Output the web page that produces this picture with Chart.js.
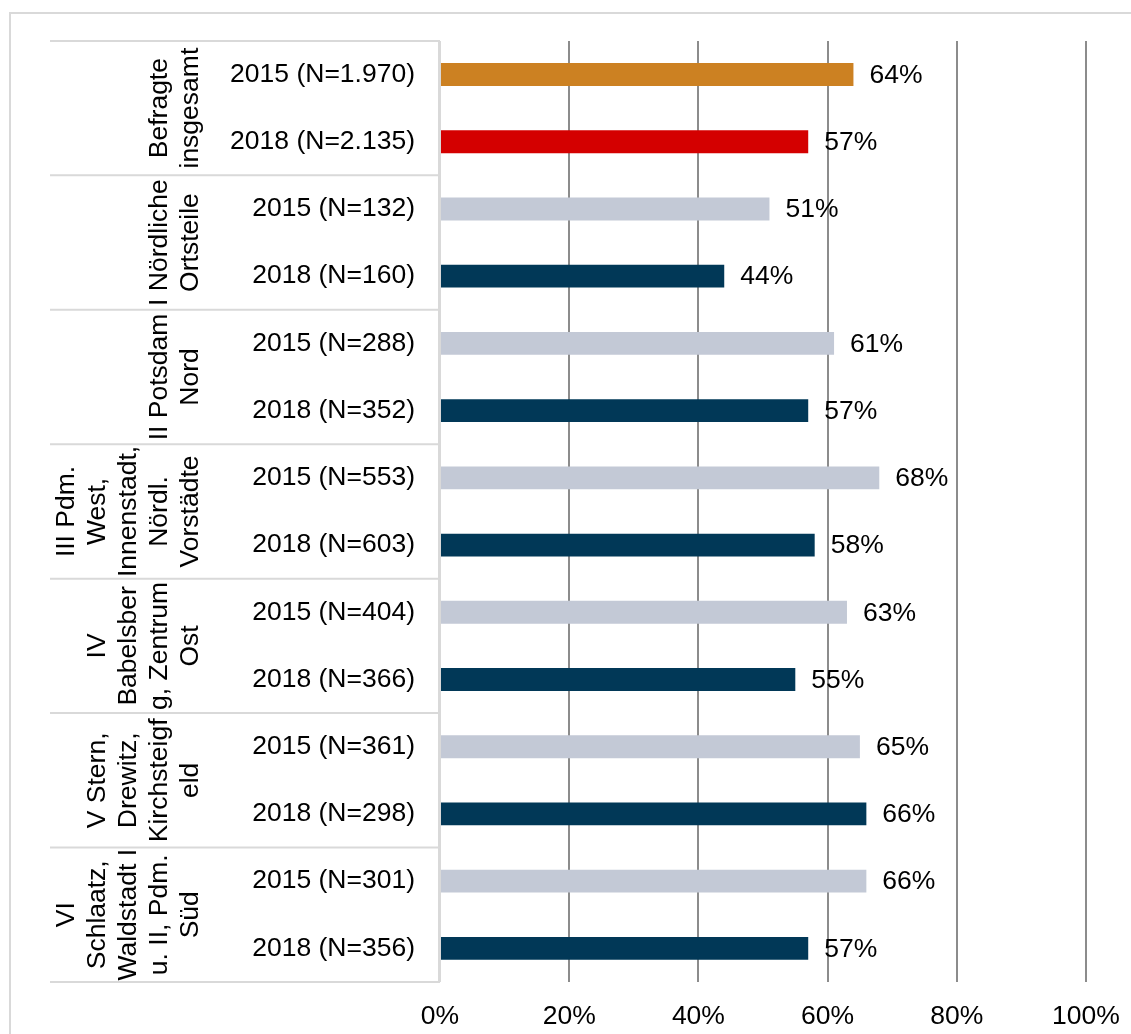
<!DOCTYPE html>
<html>
<head>
<meta charset="utf-8">
<script src="https://cdn.jsdelivr.net/npm/chart.js@4/dist/chart.umd.min.js"></script>
<style>
  body { margin: 0; background: #fff; }
  canvas { display: block; }
</style>
</head>
<body>
<canvas id="myChart" width="1131" height="1034"></canvas>
<script>
// Stadtbezirke (Gruppen, je zwei Balken)
const groupLabels = [
    ["Befragte", "insgesamt"],
    ["I Nördliche", "Ortsteile"],
    ["II Potsdam", "Nord"],
    ["III Pdm.", "West,", "Innenstadt,", "Nördl.", "Vorstädte"],
    ["IV", "Babelsber", "g, Zentrum", "Ost"],
    ["V Stern,", "Drewitz,", "Kirchsteigf", "eld"],
    ["VI", "Schlaatz,", "Waldstadt I", "u. II, Pdm.", "Süd"]
];

const yearLabels = [
    "2015 (N=1.970)", "2018 (N=2.135)",
    "2015 (N=132)", "2018 (N=160)",
    "2015 (N=288)", "2018 (N=352)",
    "2015 (N=553)", "2018 (N=603)",
    "2015 (N=404)", "2018 (N=366)",
    "2015 (N=361)", "2018 (N=298)",
    "2015 (N=301)", "2018 (N=356)"
];

const values = [64, 57, 51, 44, 61, 57, 68, 58, 63, 55, 65, 66, 66, 57];

const xTicks = [0, 20, 40, 60, 80, 100];

const ORANGE = '#cc8122';
const RED = '#d40000';
const LIGHT = '#c3c9d6';
const DARK = '#013857';
const barColors = values.map((v, i) => {
    if (i === 0) return ORANGE;
    if (i === 1) return RED;
    return i % 2 === 0 ? LIGHT : DARK;
});

const FONT = "'Liberation Sans', Arial, sans-serif";
const FONT_SIZE = 26.5;

// Rahmen, Gruppenbeschriftung und Trennlinien links
const decorPlugin = {
    id: 'decor',
    beforeDraw(chart) {
        const c = chart.ctx;
        c.save();
        c.strokeStyle = '#d9d9d9';
        c.lineWidth = 2;
        c.beginPath();
        c.moveTo(10, 1040);
        c.lineTo(10, 13);
        c.lineTo(1140, 13);
        c.stroke();
        c.restore();
    },
    afterDraw(chart) {
        const c = chart.ctx;
        const area = chart.chartArea;
        const yScale = chart.scales.y;
        c.save();
        c.strokeStyle = '#d9d9d9';
        c.lineWidth = 2;
        // horizontale Trennlinien zwischen den Gruppen
        let bounds = [area.top];
        for (let g = 1; g < groupLabels.length; g++) {
            bounds.push((yScale.getPixelForValue(2 * g - 1) + yScale.getPixelForValue(2 * g)) / 2);
        }
        bounds.push(area.bottom);
        c.beginPath();
        bounds.forEach(b => {
            c.moveTo(50, b);
            c.lineTo(area.left, b);
        });
        c.moveTo(area.left - 1, area.top);
        c.lineTo(area.left - 1, area.bottom);
        c.stroke();

        // gedrehte Gruppenbeschriftung
        c.fillStyle = '#000';
        c.font = FONT_SIZE + 'px ' + FONT;
        c.textAlign = 'center';
        c.textBaseline = 'middle';
        const lineGap = 31;
        const lastX = 191;
        groupLabels.forEach((lines, g) => {
            const cy = (bounds[g] + bounds[g + 1]) / 2;
            lines.forEach((line, i) => {
                const x = lastX - (lines.length - 1 - i) * lineGap;
                c.save();
                c.translate(x, cy);
                c.rotate(-Math.PI / 2);
                c.fillText(line, 0, 0);
                c.restore();
            });
        });

        // Werte an den Balken
        const meta = chart.getDatasetMeta(0);
        c.textAlign = 'left';
        meta.data.forEach((bar, i) => {
            c.fillText(values[i] + '%', bar.x + 16, bar.y + 1);
        });
        c.restore();
    }
};

let ctx = document.getElementById('myChart').getContext('2d');
let myChart = new Chart(ctx, {
    type: 'bar',
    data: {
        labels: yearLabels,
        datasets: [{
            data: values,
            backgroundColor: barColors,
            categoryPercentage: 1,
            barPercentage: 0.34
        }]
    },
    options: {
        indexAxis: 'y',
        responsive: false,
        animation: false,
        layout: { padding: { left: 50, top: 40, right: 45, bottom: 0 } },
        plugins: {
            legend: { display: false },
            tooltip: { enabled: false }
        },
        scales: {
            x: {
                min: 0,
                max: 100,
                afterBuildTicks: scale => {
                    scale.ticks = xTicks.map(v => ({ value: v }));
                },
                afterFit: scale => {
                    scale.height = 52;
                    scale.paddingLeft = 0;
                    scale.paddingRight = 0;
                },
                grid: {
                    color: c => c.index === 0 ? '#d9d9d9' : '#8c8c8c',
                    lineWidth: 2,
                    drawTicks: false
                },
                border: { display: false },
                ticks: {
                    padding: 19,
                    color: '#000',
                    font: { family: FONT, size: FONT_SIZE },
                    callback: v => v + '%'
                }
            },
            y: {
                afterFit: scale => { scale.width = 390; },
                grid: { display: false, drawTicks: false },
                border: { display: false },
                ticks: {
                    padding: 25,
                    color: '#000',
                    autoSkip: false,
                    font: { family: FONT, size: FONT_SIZE }
                }
            }
        }
    },
    plugins: [decorPlugin]
});
</script>
</body>
</html>
